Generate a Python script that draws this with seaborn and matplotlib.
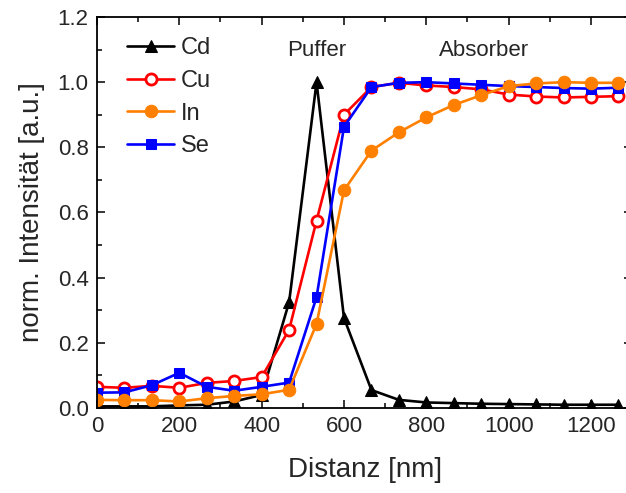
import numpy as np
import pandas as pd
import matplotlib
matplotlib.use("Agg")
import matplotlib.pyplot as plt
import seaborn as sns
from matplotlib.ticker import MultipleLocator

distance = [0, 66.7, 133.3, 200, 266.7, 333.3, 400, 466.7, 533.3, 600,
            666.7, 733.3, 800, 866.7, 933.3, 1000, 1066.7, 1133.3, 1200, 1266.7]
cd = [0.005, 0.005, 0.005, 0.008, 0.01, 0.02, 0.04, 0.325, 1.0, 0.276,
      0.055, 0.025, 0.017, 0.015, 0.013, 0.012, 0.011, 0.01, 0.01, 0.01]
cu = [0.065, 0.062, 0.068, 0.062, 0.077, 0.083, 0.095, 0.24, 0.575, 0.90,
      0.985, 0.998, 0.99, 0.985, 0.978, 0.962, 0.956, 0.953, 0.955, 0.957]
in_ = [0.025, 0.024, 0.024, 0.02, 0.03, 0.037, 0.042, 0.056, 0.258, 0.668,
       0.79, 0.846, 0.892, 0.93, 0.96, 0.988, 0.996, 1.0, 0.998, 0.998]
se = [0.047, 0.048, 0.07, 0.108, 0.065, 0.053, 0.065, 0.078, 0.34, 0.863,
      0.985, 0.998, 1.0, 0.996, 0.992, 0.988, 0.985, 0.982, 0.98, 0.983]

sns.set_style("ticks")
plt.rcParams['font.family'] = ['Liberation Sans', 'DejaVu Sans']

fig = plt.figure(figsize=(6.26, 4.93), dpi=100)
W, H = 626, 493
x0, x1, y0, y1 = 97, 97 + 1300 * (494 / 1200), 17, 408
ax = fig.add_axes([x0 / W, 1 - y1 / H, (x1 - x0) / W, (y1 - y0) / H])

lw = 1.9
ms = 8
sns.lineplot(x=distance, y=cd, ax=ax, color="black", marker="^", markersize=ms + 1,
             markeredgecolor="black", linewidth=lw, label="Cd")
sns.lineplot(x=distance, y=cu, ax=ax, color="red", marker="o", markersize=ms,
             markerfacecolor="white", markeredgecolor="red", markeredgewidth=2,
             linewidth=lw, label="Cu")
sns.lineplot(x=distance, y=se, ax=ax, color="blue", marker="s", markersize=ms - 0.5,
             markeredgecolor="blue", linewidth=lw, label="Se")
sns.lineplot(x=distance, y=in_, ax=ax, color="#FF8000", marker="o", markersize=ms + 1,
             markeredgecolor="#FF8000", linewidth=lw, label="In")

ax.set_xlim(0, 1300)
ax.set_ylim(0, 1.2)
ax.xaxis.set_major_locator(MultipleLocator(200))
ax.xaxis.set_minor_locator(MultipleLocator(100))
ax.yaxis.set_major_locator(MultipleLocator(0.2))
ax.yaxis.set_minor_locator(MultipleLocator(0.1))
ax.yaxis.set_major_formatter(matplotlib.ticker.FormatStrFormatter('%.1f'))
ax.tick_params(which="both", direction="in", top=True, right=True, width=1.3,
               labelsize=16, pad=6)
ax.tick_params(which="major", length=6)
ax.tick_params(which="minor", length=3.5)
for s in ax.spines.values():
    s.set_linewidth(1.3)
    s.set_color("black")

ax.set_xlabel("Distanz [nm]", fontsize=20, labelpad=14)
ax.set_ylabel("norm. Intensität [a.u.]", fontsize=20, labelpad=9)

ax.text(534, 1.098, "Puffer", ha="center", va="center", fontsize=16)
ax.text(940, 1.098, "Absorber", ha="center", va="center", fontsize=16)

handles, labels = ax.get_legend_handles_labels()
order = [labels.index(l) for l in ["Cd", "Cu", "In", "Se"]]
ax.legend([handles[i] for i in order], [labels[i] for i in order],
          loc="upper left", bbox_to_anchor=(0.025, 0.99), frameon=False,
          fontsize=17, handlelength=2.0, handletextpad=0.3, labelspacing=0.45,
          borderaxespad=0.3)

fig.savefig("out.png", dpi=100)
